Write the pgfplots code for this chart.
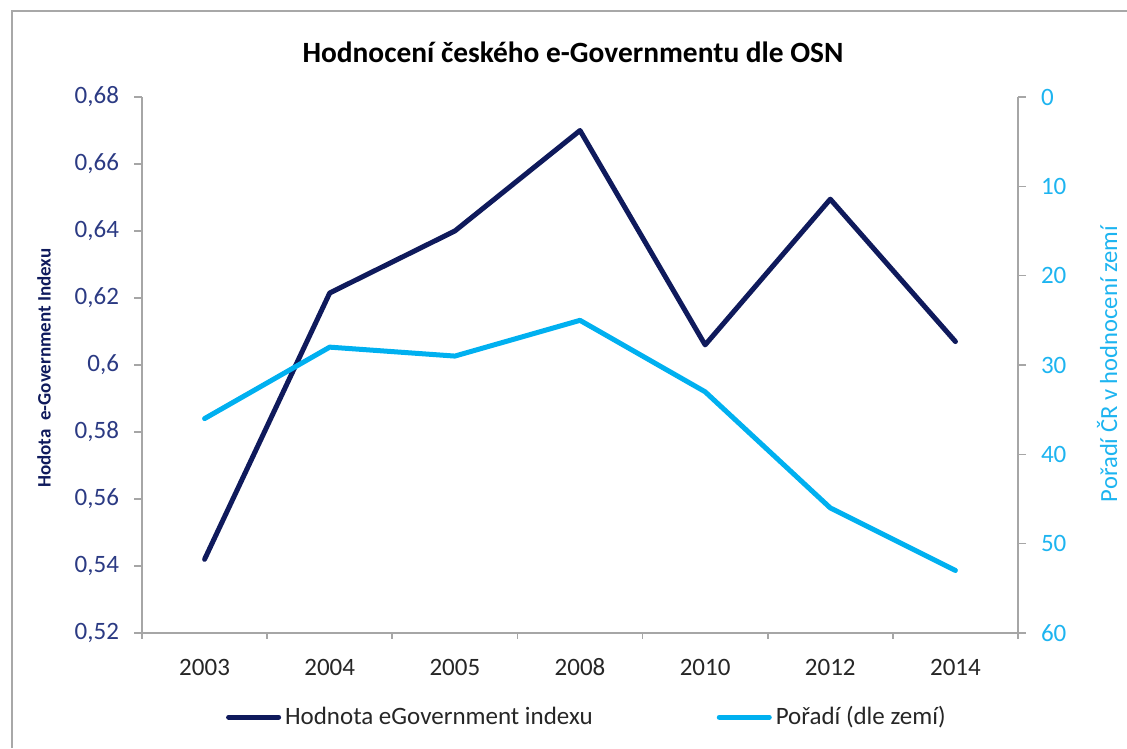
\documentclass[border=0pt]{standalone}
\usepackage{pgfplots}
\pgfplotsset{compat=1.18}
\usepackage{fontspec}
\setmainfont{Carlito}

\definecolor{navyline}{HTML}{0F1A5C}
\definecolor{navytick}{HTML}{2B3A83}
\definecolor{skyline}{HTML}{00B0F0}
\definecolor{skytick}{HTML}{1DB4F0}
\definecolor{axisgray}{HTML}{A6A6A6}
\definecolor{framegray}{HTML}{A8A8A8}
\definecolor{textdark}{HTML}{262626}

\pgfplotsset{
  common/.style={
    at={(71pt,57.5pt)}, anchor=south west,
    scale only axis, width=438pt, height=268pt,
    xmin=-0.5, xmax=6.5,
    axis line style={axisgray, line width=0.8pt, -},
    tick style={axisgray, line width=0.8pt},
    tick align=outside,
    major tick length=4pt, minor tick length=3pt,
    every tick label/.append style={font=\fontsize{12.5}{15}\selectfont},
    /pgf/number format/assume math mode=true,
  },
}

\begin{document}
\begin{tikzpicture}[x=1pt,y=1pt]
\useasboundingbox (0,0) rectangle (563.5,374);
\draw[framegray, line width=0.75pt] (6,0) -- (6,368.5) -- (563.5,368.5);

\begin{axis}[common,
    ymin=0.52, ymax=0.68,
    axis x line*=bottom, axis y line*=left,
    xtick={0,1,2,3,4,5,6},
    xticklabels={2003,2004,2005,2008,2010,2012,2014},
    major x tick style={draw=none},
    minor xtick={-0.5,0.5,1.5,2.5,3.5,4.5,5.5,6.5},
    xticklabel style={text=textdark, yshift=-4.5pt, text height=9pt, text depth=1pt},
    ytick={0.52,0.54,0.56,0.58,0.6,0.62,0.64,0.66,0.68},
    scaled y ticks=false,
    yticklabel style={text=navytick, xshift=-4pt,
      /pgf/number format/.cd, fixed, precision=2, use comma},
  ]
  \addplot[navyline, line width=2.5pt, line cap=round, line join=round] coordinates {
    (0,0.542) (1,0.6215) (2,0.640) (3,0.670) (4,0.606) (5,0.6495) (6,0.607)};
\end{axis}

\begin{axis}[common,
    ymin=0, ymax=60, y dir=reverse,
    axis x line=none, axis y line*=right,
    ytick={0,10,20,30,40,50,60},
    yticklabel style={text=skytick, xshift=4pt},
    legend columns=2,
    legend style={at={(0.509,-0.157)}, anchor=center, draw=none, fill=none,
      font=\fontsize{12.5}{15}\selectfont, text=textdark,
      /tikz/every even column/.append style={column sep=60pt},
      inner sep=0pt},
    legend image code/.code={\draw[#1, line cap=round] (0pt,0pt) -- (25pt,0pt);},
  ]
  \addlegendimage{navyline, line width=2.5pt}
  \addlegendentry{Hodnota eGovernment indexu}
  \addplot[skyline, line width=2.5pt, line cap=round, line join=round] coordinates {
    (0,36) (1,28) (2,29) (3,25) (4,33) (5,46) (6,53)};
  \addlegendentry{Pořadí (dle zemí)}
\end{axis}

\node[font=\fontsize{14.7}{17}\selectfont\bfseries, text=black] at (286.5,348) {Hodnocení českého e-Governmentu dle OSN};
\node[rotate=90, font=\fontsize{9.5}{11}\selectfont\bfseries, text=navyline] at (22,190) {Hodota\ \ e-Government Indexu};
\node[rotate=90, font=\fontsize{12.3}{14}\selectfont, text=skytick] at (553.5,192) {Pořadí ČR v hodnocení zemí};
\end{tikzpicture}
\end{document}
